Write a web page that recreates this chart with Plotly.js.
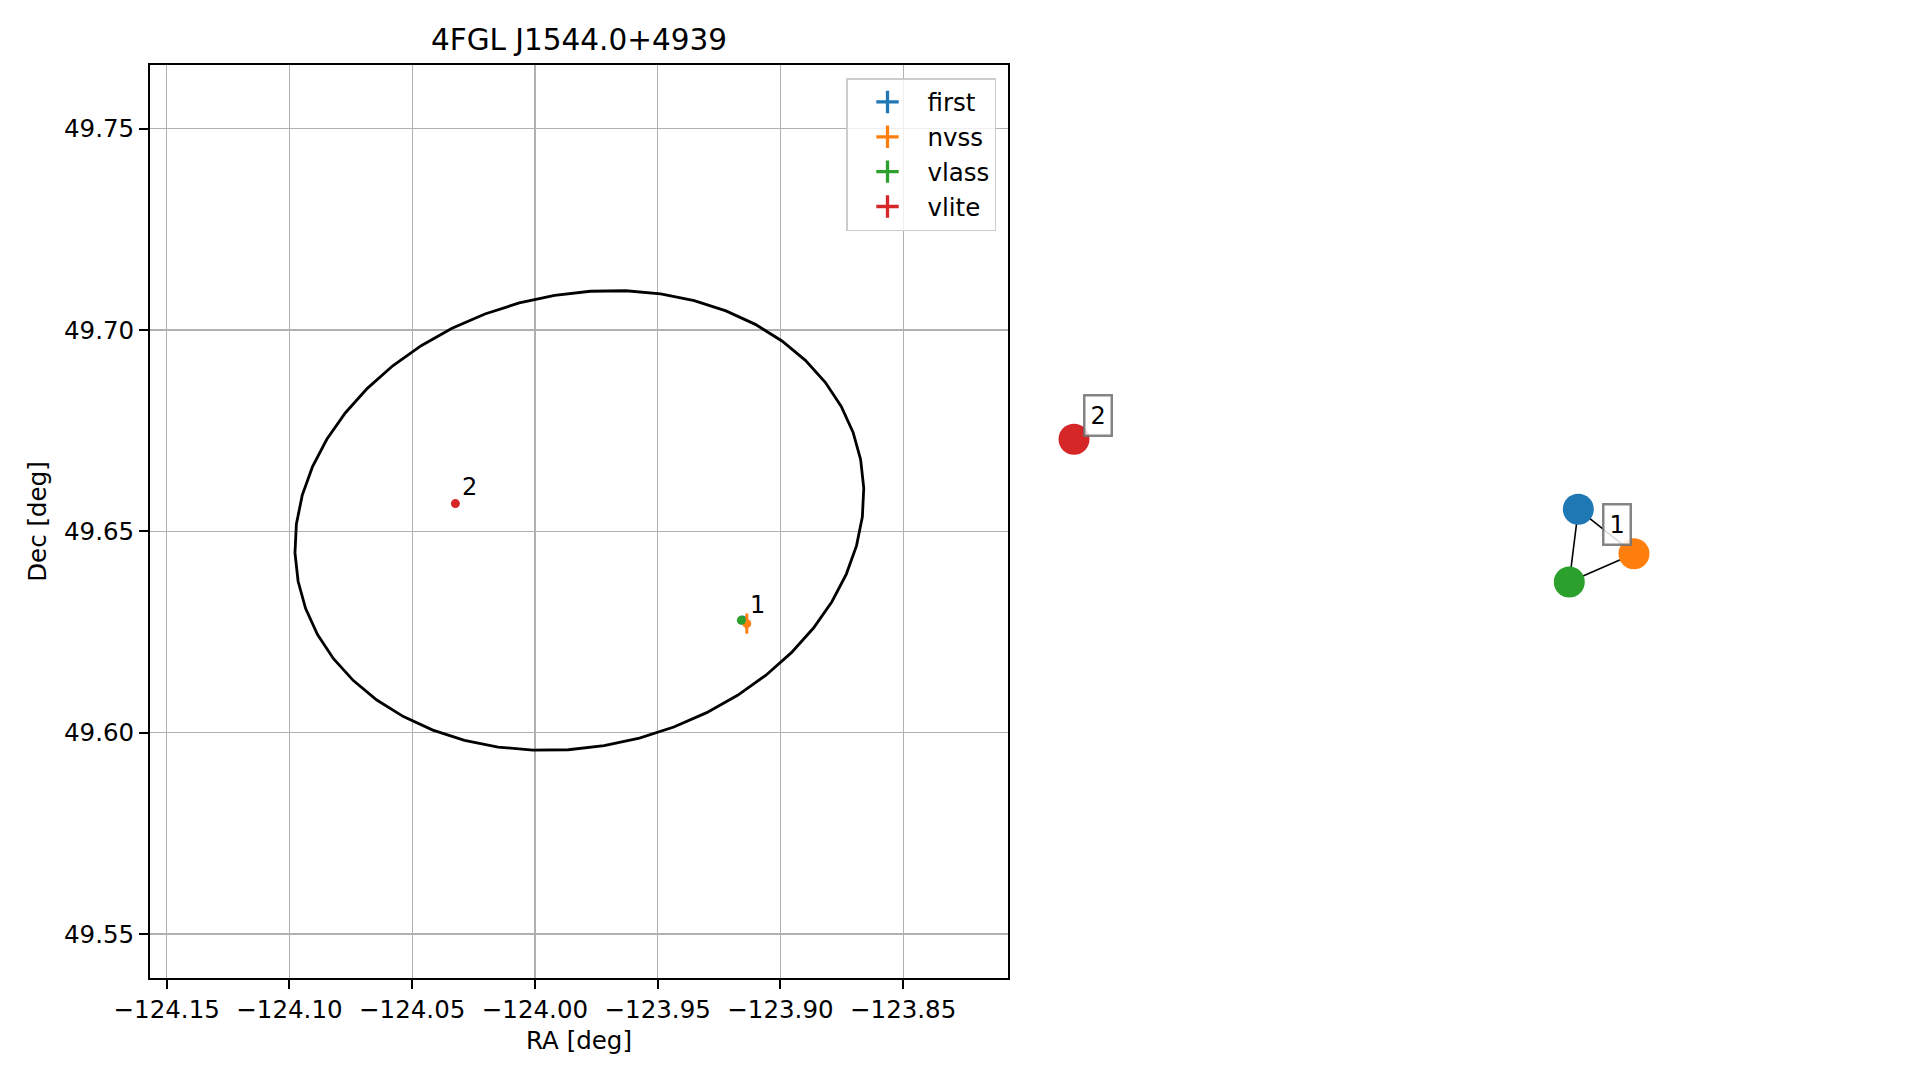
<!DOCTYPE html>
<html>
<head>
<meta charset="utf-8">
<script src="https://cdn.plot.ly/plotly-3.0.1.min.js"></script>
<style>html,body{margin:0;padding:0;background:#fff;}#chart{width:1919px;height:1080px;}</style>
</head>
<body>
<div id="chart"></div>
<script>
// ---- data ----
const chartTitle = '4FGL J1544.0+4939';
const sources = ['first', 'nvss', 'vlass', 'vlite'];
const sourceColors = ['#1f77b4', '#ff7f0e', '#2ca02c', '#d62728'];
const ra = [-123.9155, -123.9137, -123.9159, -124.0324];
const dec = [49.6280, 49.6271, 49.6279, 49.6569];
const raErr = [0.0004, 0.0012, 0.0002, 0.0003];
const decErr = [0.0004, 0.0025, 0.0002, 0.0003];
const group = [1, 1, 1, 2];

// 4FGL error ellipse (centre RA/Dec, semi-axes in deg on sky, angle from RA axis in deg)
const ellipseCenter = [-123.9819, 49.6527];
const ellipseAxes = [0.0757, 0.0562];
const ellipseAngle = 11.5;
const ellipseVertices = 50;

// cross-match graph (layout coordinates of the nodes, one per source)
const nodeX = [0.8011, 1.0, 0.7689, -1.0];
const nodeY = [0.0418, -0.1168, -0.2179, 0.2918];
const edges = [[0, 1], [0, 2], [2, 1]];

const xTicks = [-124.15, -124.10, -124.05, -124.00, -123.95, -123.90, -123.85];
const yTicks = [49.55, 49.60, 49.65, 49.70, 49.75];
const xRange = [-124.1568, -123.8073];
const yRange = [49.5391, 49.7658];

// ---- build ----
const FONT = 'DejaVu Sans, Verdana, sans-serif';
const fmt = v => (v < 0 ? '\u2212' : '') + Math.abs(v).toFixed(2);

const traces = [];
// ellipse
const ex = [], ey = [];
const phi = ellipseAngle * Math.PI / 180;
const cosd = Math.cos(ellipseCenter[1] * Math.PI / 180);
for (let i = 0; i <= ellipseVertices; i++) {
  const t = 2 * Math.PI * i / ellipseVertices;
  const X = ellipseAxes[0] * Math.cos(t) * Math.cos(phi) - ellipseAxes[1] * Math.sin(t) * Math.sin(phi);
  const Y = ellipseAxes[0] * Math.cos(t) * Math.sin(phi) + ellipseAxes[1] * Math.sin(t) * Math.cos(phi);
  ex.push(ellipseCenter[0] + X / cosd);
  ey.push(ellipseCenter[1] + Y);
}
traces.push({x: ex, y: ey, mode: 'lines', line: {color: '#000', width: 2.8}, showlegend: false, hoverinfo: 'skip', xaxis: 'x', yaxis: 'y'});

// sources with error bars
sources.forEach((s, i) => {
  traces.push({
    x: [ra[i]], y: [dec[i]], mode: 'markers', name: s, showlegend: false,
    marker: {color: sourceColors[i], size: 9},
    error_x: {type: 'data', array: [raErr[i]], color: sourceColors[i], thickness: 3, width: 0},
    error_y: {type: 'data', array: [decErr[i]], color: sourceColors[i], thickness: 3, width: 0},
    xaxis: 'x', yaxis: 'y'
  });
});
// legend entries
sources.forEach((s, i) => {
  traces.push({
    x: [null], y: [null], mode: 'markers', name: s, showlegend: true,
    marker: {color: sourceColors[i], symbol: 'cross-thin', size: 26, line: {color: sourceColors[i], width: 3.3}},
    xaxis: 'x', yaxis: 'y'
  });
});

// graph edges
const gx = [], gy = [];
edges.forEach(e => { gx.push(nodeX[e[0]], nodeX[e[1]], null); gy.push(nodeY[e[0]], nodeY[e[1]], null); });
traces.push({x: gx, y: gy, mode: 'lines', line: {color: '#000', width: 1.6}, showlegend: false, hoverinfo: 'skip', xaxis: 'x2', yaxis: 'y2'});
traces.push({x: nodeX, y: nodeY, mode: 'markers', marker: {color: sourceColors, size: 31}, showlegend: false, text: sources, xaxis: 'x2', yaxis: 'y2'});

// labels
const annotations = [];
const groups = [...new Set(group)];
groups.forEach(g => {
  const idx = group.map((v, i) => v === g ? i : -1).filter(i => i >= 0);
  const mean = arr => idx.reduce((a, i) => a + arr[i], 0) / idx.length;
  annotations.push({x: mean(ra), y: mean(dec), xref: 'x', yref: 'y', text: String(g), showarrow: false,
    xshift: 14, yshift: 16.5, font: {family: FONT, size: 24, color: '#000'}});
  annotations.push({x: mean(nodeX), y: mean(nodeY), xref: 'x2', yref: 'y2', text: String(g), showarrow: false,
    xshift: 23.5, yshift: 23.5, font: {family: FONT, size: 24, color: '#000'},
    bgcolor: 'rgba(255,255,255,0.85)', bordercolor: 'rgba(110,110,110,0.85)', borderwidth: 2.5, borderpad: 5});
});

const plotW = 1919 - 150;
const layout = {
  width: 1919, height: 1080,
  margin: {l: 150, r: 0, t: 65, b: 102},
  paper_bgcolor: '#fff', plot_bgcolor: '#fff',
  font: {family: FONT, size: 24.5, color: '#000'},
  title: {text: chartTitle, font: {family: FONT, size: 29.5, color: '#000'}, x: 579 / 1919, xref: 'container', xanchor: 'center', y: 1 - 40 / 1080, yref: 'container', yanchor: 'middle'},
  xaxis: {domain: [0, 858 / plotW], range: xRange, tickvals: xTicks, ticktext: xTicks.map(fmt),
    showgrid: true, gridcolor: '#b0b0b0', gridwidth: 1.3, zeroline: false,
    showline: true, mirror: true, linecolor: '#000', linewidth: 2,
    ticks: 'outside', ticklen: 9, tickwidth: 2, tickcolor: '#000',
    tickfont: {family: FONT, size: 24.5, color: '#000'},
    title: {text: 'RA [deg]', font: {family: FONT, size: 24.5, color: '#000'}, standoff: 8}, anchor: 'y'},
  yaxis: {domain: [0, 1], range: yRange, tickvals: yTicks, ticktext: yTicks.map(fmt),
    showgrid: true, gridcolor: '#b0b0b0', gridwidth: 1.3, zeroline: false,
    showline: true, mirror: true, linecolor: '#000', linewidth: 2,
    ticks: 'outside', ticklen: 9, tickwidth: 2, tickcolor: '#000',
    tickfont: {family: FONT, size: 24.5, color: '#000'},
    title: {text: 'Dec [deg]', font: {family: FONT, size: 24.5, color: '#000'}, standoff: 10}, anchor: 'x'},
  xaxis2: {domain: [0.5, 1], range: [-1.1411, 2.0179], visible: false, anchor: 'y2'},
  yaxis2: {domain: [0, 1], range: [-1.6321, 1.6286], visible: false, anchor: 'x2'},
  legend: {x: (996 - 150) / plotW, xanchor: 'right', y: 1 - 13 / 913, yanchor: 'top',
    bgcolor: 'rgba(255,255,255,0.8)', bordercolor: '#cccccc', borderwidth: 1.5,
    font: {family: FONT, size: 24.5, color: '#000'}, itemwidth: 70, tracegroupgap: 0},
  annotations: annotations,
  showlegend: true,
  hovermode: false
};
Plotly.newPlot('chart', traces, layout, {displayModeBar: false, staticPlot: true});
</script>
</body>
</html>
